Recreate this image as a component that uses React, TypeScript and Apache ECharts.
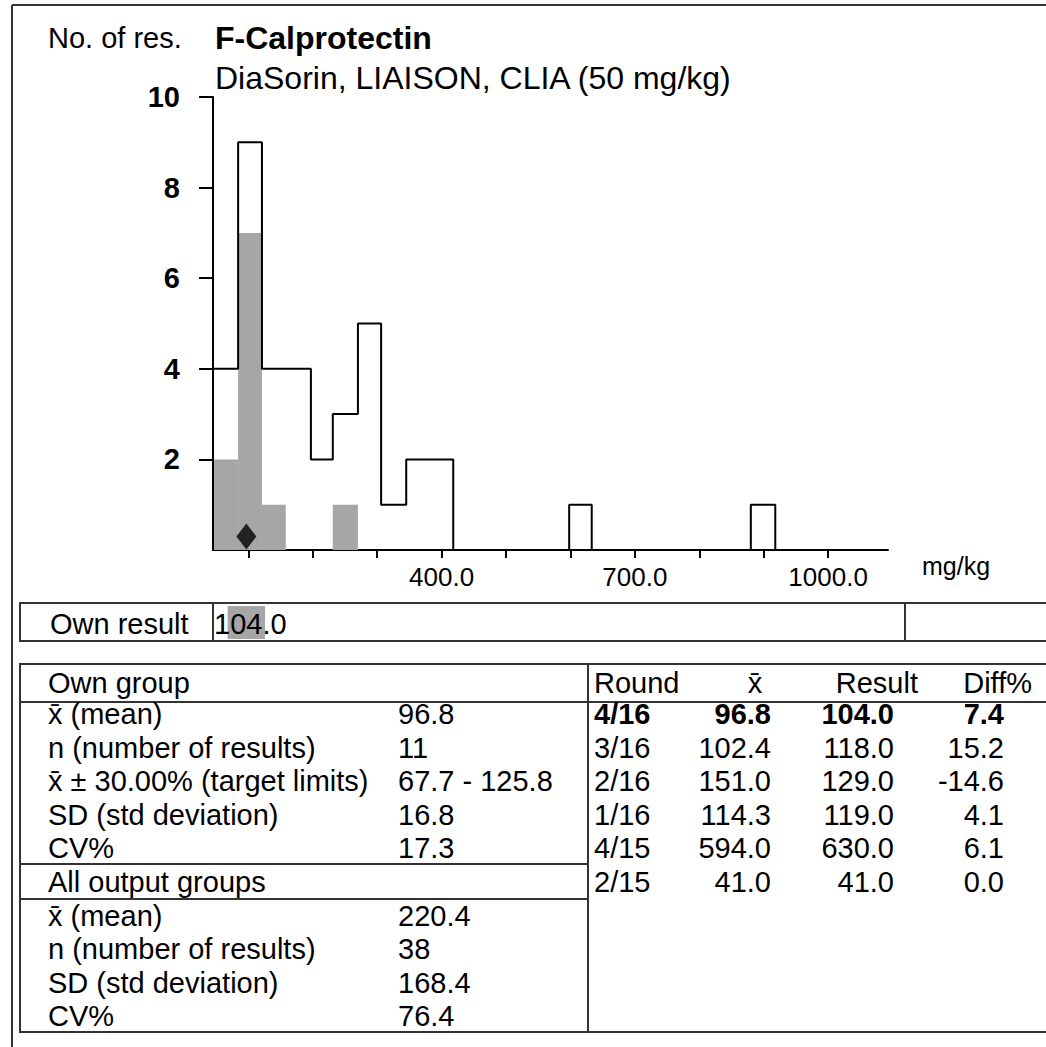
import React, { useEffect, useRef } from "react";
import * as echarts from "echarts";

// ---------- data ----------
const binStarts = [45, 84, 121, 158, 197, 231, 270, 306, 345, 382, 598, 880];
const binEnds = [84, 121, 158, 197, 231, 270, 306, 345, 382, 418, 633, 918];
const allCounts = [4, 9, 4, 4, 2, 3, 5, 1, 2, 2, 1, 1];
const ownCounts = [2, 7, 1, 0, 0, 1, 0, 0, 0, 0, 0, 0];
const ownMean = 96.8;
const ownResult = "104.0";
const targetLow = 67.7;
const targetHigh = 125.8;
const yTicks = [2, 4, 6, 8, 10];
const xTicks = [100, 200, 300, 400, 500, 600, 700, 800, 900, 1000];
const xLabels = [400, 700, 1000];

const XBAR = "x\u0304";
const ownGroupLabels = [
  XBAR + " (mean)",
  "n (number of results)",
  XBAR + " \u00b1 30.00% (target limits)",
  "SD (std deviation)",
  "CV%",
];
const ownGroupValues = ["96.8", "11", "67.7 - 125.8", "16.8", "17.3"];
const allLabels = [XBAR + " (mean)", "n (number of results)", "SD (std deviation)", "CV%"];
const allValues = ["220.4", "38", "168.4", "76.4"];
const rounds = ["4/16", "3/16", "2/16", "1/16", "4/15", "2/15"];
const roundMeans = ["96.8", "102.4", "151.0", "114.3", "594.0", "41.0"];
const roundResults = ["104.0", "118.0", "129.0", "119.0", "630.0", "41.0"];
const roundDiffs = ["7.4", "15.2", "-14.6", "4.1", "6.1", "0.0"];

const FONT = '"Liberation Sans", Arial, sans-serif';
const FS = 29;

function stepOutline(): number[][] {
  const pts: number[][] = [];
  let prevEnd: number | null = null;
  for (let i = 0; i < binStarts.length; i++) {
    const s = binStarts[i];
    const e = binEnds[i];
    const c = allCounts[i];
    if (prevEnd === null) pts.push([s, 0]);
    else if (s > prevEnd) {
      pts.push([prevEnd, 0]);
      pts.push([s, 0]);
    }
    pts.push([s, c]);
    pts.push([e, c]);
    prevEnd = e;
  }
  if (prevEnd !== null) pts.push([prevEnd, 0]);
  return pts;
}

function txt(text: string, x: number, y: number, opts: any = {}) {
  return {
    type: "text",
    x,
    y,
    z: 100,
    silent: true,
    style: {
      text,
      font: `${opts.bold ? "bold " : ""}${opts.size || FS}px ${FONT}`,
      fill: "#000",
      textAlign: opts.align || "left",
      textVerticalAlign: "middle",
    },
  };
}
function ln(x1: number, y1: number, x2: number, y2: number) {
  return {
    type: "line",
    silent: true,
    z: 100,
    shape: { x1, y1, x2, y2 },
    style: { stroke: "#333", lineWidth: 2 },
  };
}

export default function App() {
  const ref = useRef<HTMLDivElement>(null);
  useEffect(() => {
    if (!ref.current) return;
    const chart = echarts.init(ref.current, null, { renderer: "svg" });

    const graphics: any[] = [];
    // outer frame
    graphics.push(ln(12, 5, 12, 1047));
    graphics.push(ln(12, 5, 1046, 5));
    // titles
    graphics.push(txt("No. of res.", 48, 38));
    graphics.push(txt("F-Calprotectin", 215, 38, { bold: true, size: 32 }));
    graphics.push(txt("DiaSorin, LIAISON, CLIA (50 mg/kg)", 215, 78, { size: 32 }));
    graphics.push(txt("mg/kg", 922, 566, { size: 25 }));
    // own result box
    graphics.push({
      type: "rect",
      silent: true,
      z: 100,
      shape: { x: 20, y: 603, width: 1040, height: 38 },
      style: { fill: "none", stroke: "#333", lineWidth: 2 },
    });
    graphics.push(ln(213, 603, 213, 641));
    graphics.push(ln(905, 603, 905, 641));
    graphics.push(txt("Own result", 50, 624));
    graphics.push(txt(ownResult, 214, 624));
    // table
    graphics.push({
      type: "rect",
      silent: true,
      z: 100,
      shape: { x: 20, y: 664, width: 1040, height: 368 },
      style: { fill: "none", stroke: "#333", lineWidth: 2 },
    });
    graphics.push(ln(588, 664, 588, 1032));
    graphics.push(ln(20, 702, 1046, 702));
    graphics.push(ln(20, 864, 588, 864));
    graphics.push(ln(20, 899, 588, 899));
    graphics.push(txt("Own group", 48, 683));
    ownGroupLabels.forEach((l, i) => {
      const y = 714 + i * 33.5;
      graphics.push(txt(l, 48, y));
      graphics.push(txt(ownGroupValues[i], 398, y));
    });
    graphics.push(txt("All output groups", 48, 882));
    allLabels.forEach((l, i) => {
      const y = 916 + i * 33.4;
      graphics.push(txt(l, 48, y));
      graphics.push(txt(allValues[i], 398, y));
    });
    graphics.push(txt("Round", 594, 683));
    graphics.push(txt(XBAR, 755, 683, { align: "center" }));
    graphics.push(txt("Result", 918, 683, { align: "right" }));
    graphics.push(txt("Diff%", 1032, 683, { align: "right" }));
    rounds.forEach((r, i) => {
      const y = 714 + i * 33.6;
      const b = i === 0;
      graphics.push(txt(r, 594, y, { bold: b }));
      graphics.push(txt(roundMeans[i], 771, y, { bold: b, align: "right" }));
      graphics.push(txt(roundResults[i], 894, y, { bold: b, align: "right" }));
      graphics.push(txt(roundDiffs[i], 1004, y, { bold: b, align: "right" }));
    });

    const ownBars = binStarts.map((s, i) => [s, binEnds[i], ownCounts[i]]).filter((d) => d[2] > 0);

    chart.setOption({
      animation: false,
      backgroundColor: "#fff",
      grid: [
        { left: 213, top: 97, width: 675, height: 453 },
        { left: 213, top: 606, width: 675, height: 33 },
      ],
      xAxis: [
        {
          type: "value",
          gridIndex: 0,
          min: 45,
          max: 1093,
          splitLine: { show: false },
          axisLine: { show: true, onZero: false, lineStyle: { color: "#000", width: 2 } },
          axisTick: { show: true, customValues: xTicks, length: 8, lineStyle: { color: "#000", width: 2 } },
          axisLabel: {
            show: true,
            customValues: xLabels,
            formatter: (v: number) => v.toFixed(1),
            fontSize: 26,
            fontFamily: FONT,
            color: "#000",
            margin: 14,
          },
        },
        { type: "value", gridIndex: 1, min: 45, max: 1093, show: false },
      ],
      yAxis: [
        {
          type: "value",
          gridIndex: 0,
          min: 0,
          max: 10,
          interval: 2,
          splitLine: { show: false },
          axisLine: { show: true, lineStyle: { color: "#000", width: 2 } },
          axisTick: { show: true, customValues: yTicks, length: 14, lineStyle: { color: "#000", width: 2 } },
          axisLabel: {
            show: true,
            customValues: yTicks,
            fontSize: 29,
            fontWeight: "bold",
            fontFamily: FONT,
            color: "#000",
            margin: 33,
          },
        },
        { type: "value", gridIndex: 1, min: 0, max: 1, show: false },
      ],
      series: [
        {
          type: "custom",
          xAxisIndex: 0,
          yAxisIndex: 0,
          z: 1,
          data: ownBars,
          encode: { x: [0, 1], y: 2 },
          renderItem: (params: any, api: any) => {
            const p0 = api.coord([api.value(0), api.value(2)]);
            const p1 = api.coord([api.value(1), 0]);
            return {
              type: "rect",
              shape: { x: p0[0], y: p0[1], width: p1[0] - p0[0], height: p1[1] - p0[1] },
              style: { fill: "#a6a6a6" },
            };
          },
        },
        {
          type: "line",
          xAxisIndex: 0,
          yAxisIndex: 0,
          z: 2,
          data: stepOutline(),
          symbol: "none",
          lineStyle: { color: "#000", width: 2 },
        },
        {
          type: "scatter",
          xAxisIndex: 0,
          yAxisIndex: 0,
          z: 3,
          data: [[ownMean, 0.3]],
          symbol: "diamond",
          symbolSize: [20, 26],
          itemStyle: { color: "#000" },
        },
        {
          type: "custom",
          xAxisIndex: 1,
          yAxisIndex: 1,
          z: 0,
          data: [[targetLow, targetHigh]],
          encode: { x: [0, 1] },
          renderItem: (params: any, api: any) => {
            const p0 = api.coord([api.value(0), 1]);
            const p1 = api.coord([api.value(1), 0]);
            return {
              type: "rect",
              shape: { x: p0[0], y: p0[1], width: p1[0] - p0[0], height: p1[1] - p0[1] },
              style: { fill: "#a6a6a6" },
            };
          },
        },
      ],
      graphic: graphics,
    });
    return () => chart.dispose();
  }, []);
  return (
    <div
      ref={ref}
      style={{ position: "fixed", left: 0, top: 0, width: 1046, height: 1047, background: "#fff" }}
    />
  );
}
